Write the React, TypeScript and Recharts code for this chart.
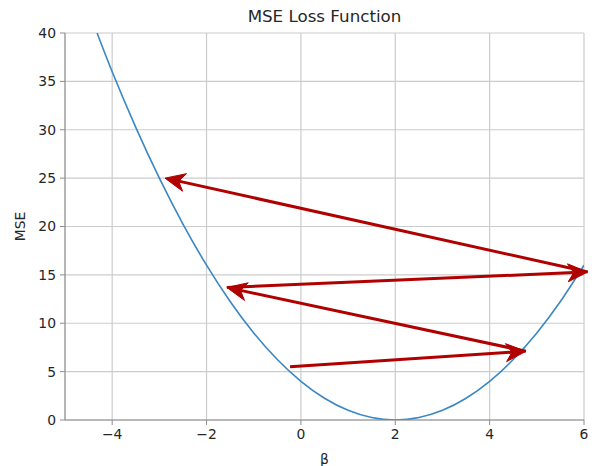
import React from "react";
import {
  ComposedChart,
  Line,
  XAxis,
  YAxis,
  CartesianGrid,
  ReferenceLine,
} from "recharts";

const FONT = "'DejaVu Sans', sans-serif";
const TEXT_COLOR = "#262626";
const SPINE_COLOR = "#8c8c8c";
const GRID_COLOR = "#cccccc";
const CURVE_COLOR = "#3a87c4";
const ARROW_COLOR = "#b00000";

// loss curve
const BETA = [
  -4.32, -4, -3.5, -3, -2.5, -2, -1.5, -1, -0.5, 0, 0.5, 1, 1.5, 2, 2.5, 3, 3.5,
  4, 4.5, 5, 5.5, 6,
];
const MSE = [
  40, 36, 30.25, 25, 20.25, 16, 12.25, 9, 6.25, 4, 2.25, 1, 0.25, 0, 0.25, 1,
  2.25, 4, 6.25, 9, 12.25, 16,
];

// gradient steps (arrow i goes from step i to step i + 1)
const STEP_BETA = [-0.23, 4.77, -1.57, 6.08, -2.88];
const STEP_MSE = [5.5, 7.1, 13.7, 15.3, 25.0];

const X_TICKS = [-4, -2, 0, 2, 4, 6];
const Y_TICKS = [0, 5, 10, 15, 20, 25, 30, 35, 40];

const curveData = BETA.map((b, i) => ({ beta: b, mse: MSE[i] }));

const arrows = STEP_BETA.slice(0, -1).map((b, i) => ({
  from: { x: b, y: STEP_MSE[i] },
  to: { x: STEP_BETA[i + 1], y: STEP_MSE[i + 1] },
}));

function fmtTick(v: number): string {
  return String(v).replace("-", "\u2212");
}

function ArrowShape(props: any) {
  const { x1, y1, x2, y2 } = props;
  if ([x1, y1, x2, y2].some((v) => typeof v !== "number" || isNaN(v))) return null;
  const dx = x2 - x1;
  const dy = y2 - y1;
  const len = Math.sqrt(dx * dx + dy * dy) || 1;
  const ux = dx / len;
  const uy = dy / len;
  const nx = -uy;
  const ny = ux;
  const headLen = 20;
  const halfW = 9;
  const notch = 6;
  const bx = x2 - headLen * ux;
  const by = y2 - headLen * uy;
  const mx = x2 - (headLen - notch) * ux;
  const my = y2 - (headLen - notch) * uy;
  const d = `M${x2},${y2} L${bx + halfW * nx},${by + halfW * ny} L${mx},${my} L${bx - halfW * nx},${by - halfW * ny} Z`;
  return (
    <g>
      <line x1={x1} y1={y1} x2={mx} y2={my} stroke={ARROW_COLOR} strokeWidth={3} />
      <path d={d} fill={ARROW_COLOR} stroke={ARROW_COLOR} strokeWidth={1} strokeLinejoin="miter" />
    </g>
  );
}

function YLabel(props: any) {
  const vb = props.viewBox || {};
  const x = (vb.x ?? 0) + 20;
  const y = (vb.y ?? 0) + (vb.height ?? 0) / 2;
  return (
    <text
      x={x}
      y={y}
      transform={`rotate(-90 ${x} ${y})`}
      textAnchor="middle"
      dominantBaseline="central"
      fill={TEXT_COLOR}
      fontSize={13.9}
      fontFamily={FONT}
    >
      MSE
    </text>
  );
}

export default function App() {
  return (
    <div style={{ position: "absolute", left: 0, top: 0, width: 595, height: 466, background: "#fff" }}>
      <div
        style={{
          position: "absolute",
          left: 65,
          width: 519,
          top: 6,
          textAlign: "center",
          fontFamily: FONT,
          fontSize: 16.7,
          color: TEXT_COLOR,
          lineHeight: "20px",
        }}
      >
        MSE Loss Function
      </div>
      <ComposedChart
        width={595}
        height={466}
        data={curveData}
        margin={{ top: 33, right: 11, bottom: 0, left: 0 }}
      >
        <CartesianGrid stroke={GRID_COLOR} strokeWidth={1.2} />
        <XAxis
          dataKey="beta"
          type="number"
          domain={[-5, 6]}
          ticks={X_TICKS}
          interval={0}
          height={46}
          tickFormatter={fmtTick}
          tickSize={5}
          tickMargin={4}
          stroke={SPINE_COLOR}
          tick={{ fill: TEXT_COLOR, fontSize: 13.9, fontFamily: FONT }}
          allowDataOverflow
          label={{
            value: "\u03b2",
            position: "insideBottom",
            offset: 2,
            fill: TEXT_COLOR,
            fontSize: 13.9,
            fontFamily: FONT,
          }}
        />
        <YAxis
          type="number"
          domain={[0, 40]}
          ticks={Y_TICKS}
          interval={0}
          width={65}
          tickFormatter={fmtTick}
          tickSize={5}
          tickMargin={4}
          stroke={SPINE_COLOR}
          tick={{ fill: TEXT_COLOR, fontSize: 13.9, fontFamily: FONT }}
          allowDataOverflow
          label={<YLabel />}
        />
        <Line
          type="natural"
          dataKey="mse"
          stroke={CURVE_COLOR}
          strokeWidth={1.6}
          dot={false}
          activeDot={false}
          isAnimationActive={false}
        />
        {arrows.map((a, i) => (
          <ReferenceLine
            key={i}
            segment={[a.from, a.to]}
            ifOverflow="visible"
            shape={(p: any) => <ArrowShape {...p} />}
          />
        ))}
      </ComposedChart>
    </div>
  );
}
